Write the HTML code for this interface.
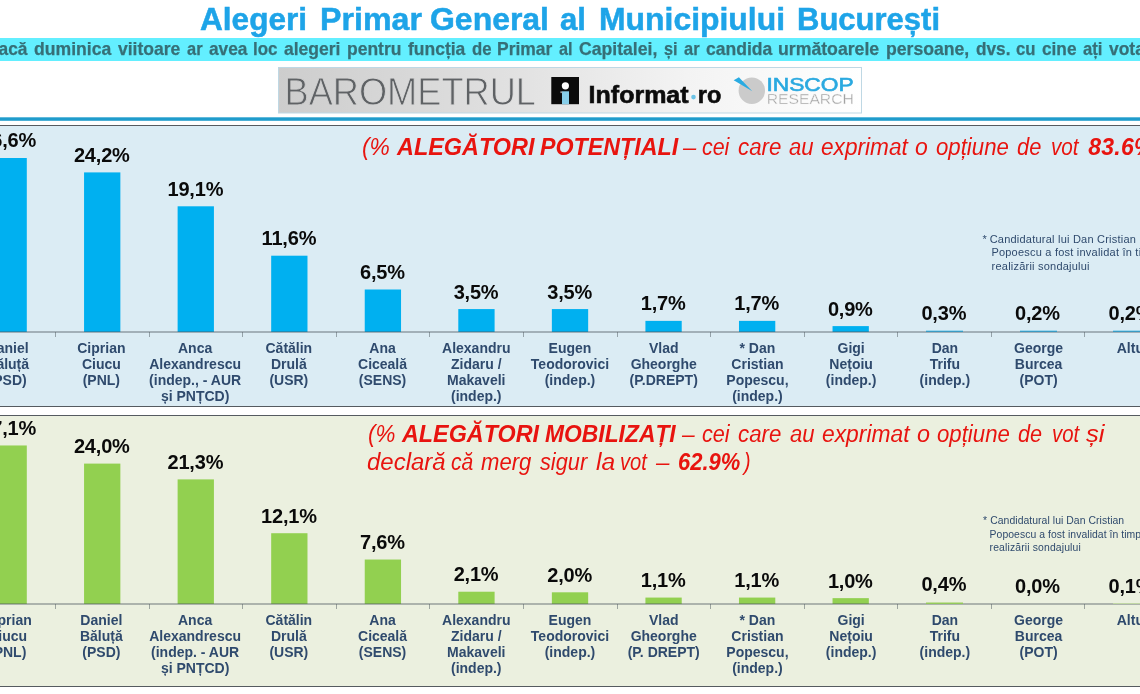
<!DOCTYPE html>
<html>
<head>
<meta charset="utf-8">
<style>
html,body{margin:0;padding:0;overflow:hidden;}
body{width:1140px;height:694px;position:relative;overflow:hidden;background:#fff;font-family:"Liberation Sans",sans-serif;}
#clip{position:absolute;left:0;top:0;width:1140px;height:694px;overflow:hidden;}
#wrap{position:absolute;left:-20px;top:-20px;width:1180px;height:734px;overflow:hidden;filter:blur(0.45px);background:#fff;}
#inner{position:absolute;left:20px;top:20px;width:1140px;height:694px;}
.abs{position:absolute;white-space:nowrap;}
#band{left:-20px;top:38px;width:1180px;height:23px;background:#63efff;}
#blueline{left:-20px;top:117px;width:1180px;height:4px;background:linear-gradient(#62badb 0,#62badb 1px,#1f9ccc 1px,#1f9ccc 3px,#4cb0d6 3px,#4cb0d6 4px);}
.panel{left:-20px;width:1180px;box-sizing:border-box;border-top:1px solid #555b60;border-bottom:1px solid #555b60;}
#p1{top:125px;height:282px;background:#dbecf4;}
#p2{top:415px;height:272px;background:#ebf0df;}
.tick{width:1px;height:5px;}
.val{font-size:20px;line-height:24px;font-weight:bold;color:#0a0a0a;text-align:center;width:94px;letter-spacing:-0.2px;}
.cat{font-size:14px;line-height:16px;font-weight:bold;color:#2f4a6d;text-align:center;width:120px;white-space:pre;letter-spacing:0px;}
.note{color:#2f4a6d;white-space:pre;}
.n1{font-size:11px;line-height:13.4px;letter-spacing:0.22px;}
.n2{font-size:10.4px;line-height:13.6px;letter-spacing:0.06px;}
</style>
</head>
<body>
<div id="clip"><div id="wrap"><div id="inner">
<div id="band" class="abs"></div>
<svg class="abs" id="logo" style="left:278px;top:67px" width="584" height="47" viewBox="278 67 584 47">
<defs>
<linearGradient id="lg" gradientUnits="userSpaceOnUse" x1="278" y1="0" x2="862" y2="0">
<stop offset="0" stop-color="#cdcdcd"/><stop offset="0.35" stop-color="#dedede"/><stop offset="0.7" stop-color="#f3f3f3"/><stop offset="1" stop-color="#ffffff"/>
</linearGradient>
</defs>
<rect x="278.5" y="67.5" width="583" height="45.5" fill="url(#lg)" stroke="#bfd8e4" stroke-width="1"/>
<text id="baro" x="284.5" y="104.6" font-family="Liberation Sans, sans-serif" font-size="39.4" fill="#5f6265" stroke="url(#lg)" stroke-width="0.9" textLength="251.5" lengthAdjust="spacingAndGlyphs">BAROMETRUL</text>
<!-- informat icon -->
<rect x="551.3" y="77" width="27.7" height="27.2" fill="#0b0b0b"/>
<circle cx="565.4" cy="85.8" r="3.6" fill="#ffffff"/>
<rect x="562" y="91.3" width="7" height="12.9" fill="#86cde8"/>
<rect x="560.4" y="91.3" width="1.8" height="1.8" fill="#9a9a9a"/>
<text id="inf1" x="588.6" y="103.2" font-family="Liberation Sans, sans-serif" font-weight="bold" font-size="24" fill="#0b0b0b" stroke="#0b0b0b" stroke-width="0.6" textLength="100" lengthAdjust="spacingAndGlyphs">Informat</text>
<circle cx="693.5" cy="97.1" r="2.3" fill="#6cc3e6"/>
<text id="inf2" x="697.8" y="103.2" font-family="Liberation Sans, sans-serif" font-weight="bold" font-size="24" fill="#0b0b0b" stroke="#0b0b0b" stroke-width="0.6" textLength="23.5" lengthAdjust="spacingAndGlyphs">ro</text>
<!-- inscop -->
<circle cx="751.8" cy="90.7" r="13.2" fill="#cbcbcb"/>
<path d="M733.7 80.3 L738.9 77.3 L752.3 91.3 Z" fill="#29abe2"/>
<text x="766.4" y="90.9" font-family="Liberation Sans, sans-serif" font-size="18.4" fill="#2aa9e0" stroke="#2aa9e0" stroke-width="0.6" textLength="87.2" lengthAdjust="spacingAndGlyphs">INSCOP</text>
<text x="766.8" y="103.7" font-family="Liberation Sans, sans-serif" font-size="14.6" fill="#a3a3a3" stroke="#f4f4f4" stroke-width="0.4" textLength="87" lengthAdjust="spacingAndGlyphs">RESEARCH</text>
</svg>

<div id="blueline" class="abs"></div>
<div id="p1" class="abs panel"></div>
<div id="p2" class="abs panel"></div>
<svg class="abs" style="left:0;top:0" width="1140" height="694" viewBox="0 0 1140 694"><rect x="-9.50" y="158.00" width="36.3" height="174.00" fill="#00b0f0"/><rect x="84.06" y="172.40" width="36.3" height="159.60" fill="#00b0f0"/><rect x="177.62" y="206.30" width="36.3" height="125.70" fill="#00b0f0"/><rect x="271.18" y="255.70" width="36.3" height="76.30" fill="#00b0f0"/><rect x="364.74" y="289.50" width="36.3" height="42.50" fill="#00b0f0"/><rect x="458.30" y="309.07" width="36.3" height="22.93" fill="#00b0f0"/><rect x="551.86" y="309.07" width="36.3" height="22.93" fill="#00b0f0"/><rect x="645.42" y="320.87" width="36.3" height="11.13" fill="#00b0f0"/><rect x="738.98" y="320.87" width="36.3" height="11.13" fill="#00b0f0"/><rect x="832.54" y="326.11" width="36.3" height="5.89" fill="#00b0f0"/><rect x="-9.50" y="445.47" width="36.3" height="158.53" fill="#92d050"/><rect x="84.06" y="463.60" width="36.3" height="140.40" fill="#92d050"/><rect x="177.62" y="479.39" width="36.3" height="124.60" fill="#92d050"/><rect x="271.18" y="533.22" width="36.3" height="70.78" fill="#92d050"/><rect x="364.74" y="559.54" width="36.3" height="44.46" fill="#92d050"/><rect x="458.30" y="591.72" width="36.3" height="12.29" fill="#92d050"/><rect x="551.86" y="592.30" width="36.3" height="11.70" fill="#92d050"/><rect x="645.42" y="597.57" width="36.3" height="6.44" fill="#92d050"/><rect x="738.98" y="597.57" width="36.3" height="6.44" fill="#92d050"/><rect x="832.54" y="598.15" width="36.3" height="5.85" fill="#92d050"/></svg>
<div class="abs" style="left:-20px;width:1180px;top:331px;height:2px;background:rgba(78,88,94,0.40)"></div>
<div class="abs tick" style="left:55.1px;top:332px;background:rgba(78,88,94,0.5)"></div>
<div class="abs tick" style="left:148.7px;top:332px;background:rgba(78,88,94,0.5)"></div>
<div class="abs tick" style="left:242.2px;top:332px;background:rgba(78,88,94,0.5)"></div>
<div class="abs tick" style="left:335.8px;top:332px;background:rgba(78,88,94,0.5)"></div>
<div class="abs tick" style="left:429.3px;top:332px;background:rgba(78,88,94,0.5)"></div>
<div class="abs tick" style="left:522.9px;top:332px;background:rgba(78,88,94,0.5)"></div>
<div class="abs tick" style="left:616.5px;top:332px;background:rgba(78,88,94,0.5)"></div>
<div class="abs tick" style="left:710.0px;top:332px;background:rgba(78,88,94,0.5)"></div>
<div class="abs tick" style="left:803.6px;top:332px;background:rgba(78,88,94,0.5)"></div>
<div class="abs tick" style="left:897.1px;top:332px;background:rgba(78,88,94,0.5)"></div>
<div class="abs tick" style="left:990.7px;top:332px;background:rgba(78,88,94,0.5)"></div>
<div class="abs tick" style="left:1084.3px;top:332px;background:rgba(78,88,94,0.5)"></div>
<div class="abs val" style="left:-38.75px;top:128.47px">26,6%</div>
<div class="abs cat" style="left:-52.33px;top:340.35px">Daniel
Băluță
(PSD)</div>
<div class="abs val" style="left:54.81px;top:142.87px">24,2%</div>
<div class="abs cat" style="left:41.39px;top:340.35px">Ciprian
Ciucu
(PNL)</div>
<div class="abs val" style="left:148.37px;top:176.77px">19,1%</div>
<div class="abs cat" style="left:135.11px;top:340.35px">Anca
Alexandrescu
(indep., - AUR
și PNȚCD)</div>
<div class="abs val" style="left:241.93px;top:226.17px">11,6%</div>
<div class="abs cat" style="left:228.83px;top:340.35px">Cătălin
Drulă
(USR)</div>
<div class="abs val" style="left:335.49px;top:259.97px">6,5%</div>
<div class="abs cat" style="left:322.55px;top:340.35px">Ana
Ciceală
(SENS)</div>
<div class="abs val" style="left:429.05px;top:279.54px">3,5%</div>
<div class="abs cat" style="left:416.27px;top:340.35px">Alexandru
Zidaru /
Makaveli
(indep.)</div>
<div class="abs val" style="left:522.61px;top:279.54px">3,5%</div>
<div class="abs cat" style="left:509.99px;top:340.35px">Eugen
Teodorovici
(indep.)</div>
<div class="abs val" style="left:616.17px;top:291.33px">1,7%</div>
<div class="abs cat" style="left:603.71px;top:340.35px">Vlad
Gheorghe
(P.DREPT)</div>
<div class="abs val" style="left:709.73px;top:291.33px">1,7%</div>
<div class="abs cat" style="left:697.43px;top:340.35px">* Dan
Cristian
Popescu,
(indep.)</div>
<div class="abs val" style="left:803.29px;top:296.57px">0,9%</div>
<div class="abs cat" style="left:791.15px;top:340.35px">Gigi
Nețoiu
(indep.)</div>
<div class="abs" style="left:926.10px;top:330px;height:2px;width:36.9px;background:linear-gradient(#9fd8ee 0,#9fd8ee 1px,#3a9bc4 1px,#3a9bc4 2px)"></div>
<div class="abs val" style="left:896.85px;top:300.50px">0,3%</div>
<div class="abs cat" style="left:884.87px;top:340.35px">Dan
Trifu
(indep.)</div>
<div class="abs" style="left:1019.66px;top:330px;height:2px;width:36.9px;background:linear-gradient(#9fd8ee 0,#9fd8ee 1px,#3a9bc4 1px,#3a9bc4 2px)"></div>
<div class="abs val" style="left:990.41px;top:301.16px">0,2%</div>
<div class="abs cat" style="left:978.59px;top:340.35px">George
Burcea
(POT)</div>
<div class="abs" style="left:1113.22px;top:330px;height:2px;width:36.9px;background:linear-gradient(#9fd8ee 0,#9fd8ee 1px,#3a9bc4 1px,#3a9bc4 2px)"></div>
<div class="abs val" style="left:1083.97px;top:301.16px">0,2%</div>
<div class="abs cat" style="left:1072.31px;top:340.35px">Altul</div>
<div class="abs" style="left:-20px;width:1180px;top:603px;height:2px;background:rgba(78,88,94,0.40)"></div>
<div class="abs tick" style="left:55.1px;top:604px;background:rgba(78,88,94,0.5)"></div>
<div class="abs tick" style="left:148.7px;top:604px;background:rgba(78,88,94,0.5)"></div>
<div class="abs tick" style="left:242.2px;top:604px;background:rgba(78,88,94,0.5)"></div>
<div class="abs tick" style="left:335.8px;top:604px;background:rgba(78,88,94,0.5)"></div>
<div class="abs tick" style="left:429.3px;top:604px;background:rgba(78,88,94,0.5)"></div>
<div class="abs tick" style="left:522.9px;top:604px;background:rgba(78,88,94,0.5)"></div>
<div class="abs tick" style="left:616.5px;top:604px;background:rgba(78,88,94,0.5)"></div>
<div class="abs tick" style="left:710.0px;top:604px;background:rgba(78,88,94,0.5)"></div>
<div class="abs tick" style="left:803.6px;top:604px;background:rgba(78,88,94,0.5)"></div>
<div class="abs tick" style="left:897.1px;top:604px;background:rgba(78,88,94,0.5)"></div>
<div class="abs tick" style="left:990.7px;top:604px;background:rgba(78,88,94,0.5)"></div>
<div class="abs tick" style="left:1084.3px;top:604px;background:rgba(78,88,94,0.5)"></div>
<div class="abs val" style="left:-38.75px;top:415.94px">27,1%</div>
<div class="abs cat" style="left:-52.33px;top:612.15px">Ciprian
Ciucu
(PNL)</div>
<div class="abs val" style="left:54.81px;top:434.07px">24,0%</div>
<div class="abs cat" style="left:41.39px;top:612.15px">Daniel
Băluță
(PSD)</div>
<div class="abs val" style="left:148.37px;top:449.86px">21,3%</div>
<div class="abs cat" style="left:135.11px;top:612.15px">Anca
Alexandrescu
(indep. - AUR
și PNȚCD)</div>
<div class="abs val" style="left:241.93px;top:503.69px">12,1%</div>
<div class="abs cat" style="left:228.83px;top:612.15px">Cătălin
Drulă
(USR)</div>
<div class="abs val" style="left:335.49px;top:530.01px">7,6%</div>
<div class="abs cat" style="left:322.55px;top:612.15px">Ana
Ciceală
(SENS)</div>
<div class="abs val" style="left:429.05px;top:562.19px">2,1%</div>
<div class="abs cat" style="left:416.27px;top:612.15px">Alexandru
Zidaru /
Makaveli
(indep.)</div>
<div class="abs val" style="left:522.61px;top:562.77px">2,0%</div>
<div class="abs cat" style="left:509.99px;top:612.15px">Eugen
Teodorovici
(indep.)</div>
<div class="abs val" style="left:616.17px;top:568.04px">1,1%</div>
<div class="abs cat" style="left:603.71px;top:612.15px">Vlad
Gheorghe
(P. DREPT)</div>
<div class="abs val" style="left:709.73px;top:568.04px">1,1%</div>
<div class="abs cat" style="left:697.43px;top:612.15px">* Dan
Cristian
Popescu,
(indep.)</div>
<div class="abs val" style="left:803.29px;top:568.62px">1,0%</div>
<div class="abs cat" style="left:791.15px;top:612.15px">Gigi
Nețoiu
(indep.)</div>
<div class="abs" style="left:926.10px;top:602px;height:2px;width:36.9px;background:linear-gradient(#c3df9c 0,#c3df9c 1px,#93c95c 1px,#93c95c 2px)"></div>
<div class="abs val" style="left:896.85px;top:572.13px">0,4%</div>
<div class="abs cat" style="left:884.87px;top:612.15px">Dan
Trifu
(indep.)</div>
<div class="abs val" style="left:990.41px;top:574.47px">0,0%</div>
<div class="abs cat" style="left:978.59px;top:612.15px">George
Burcea
(POT)</div>
<div class="abs" style="left:1113.22px;top:603px;height:1px;width:36.9px;background:#c0d7a4"></div>
<div class="abs val" style="left:1083.97px;top:573.88px">0,1%</div>
<div class="abs cat" style="left:1072.31px;top:612.15px">Altul</div>
<span class="abs" style="left:200.20px;top:0.09px;font-size:31.5px;line-height:38px;color:#1ea4e8;font-weight:bold;-webkit-text-stroke:0.5px #1ea4e8;transform-origin:0 0;transform:scaleX(1.0029)">Alegeri</span>
<span class="abs" style="left:320.10px;top:0.09px;font-size:31.5px;line-height:38px;color:#1ea4e8;font-weight:bold;-webkit-text-stroke:0.5px #1ea4e8;transform-origin:0 0;transform:scaleX(1.0211)">Primar</span>
<span class="abs" style="left:430.00px;top:0.09px;font-size:31.5px;line-height:38px;color:#1ea4e8;font-weight:bold;-webkit-text-stroke:0.5px #1ea4e8;transform-origin:0 0;transform:scaleX(1.0144)">General</span>
<span class="abs" style="left:560.20px;top:0.09px;font-size:31.5px;line-height:38px;color:#1ea4e8;font-weight:bold;-webkit-text-stroke:0.5px #1ea4e8;transform-origin:0 0;transform:scaleX(0.9897)">al</span>
<span class="abs" style="left:598.80px;top:0.09px;font-size:31.5px;line-height:38px;color:#1ea4e8;font-weight:bold;-webkit-text-stroke:0.5px #1ea4e8;transform-origin:0 0;transform:scaleX(1.0128)">Municipiului</span>
<span class="abs" style="left:797.30px;top:0.09px;font-size:31.5px;line-height:38px;color:#1ea4e8;font-weight:bold;-webkit-text-stroke:0.5px #1ea4e8;transform-origin:0 0;transform:scaleX(0.9843)">București</span>
<span class="abs" style="left:-13.53px;top:38.49px;font-size:18.5px;line-height:22px;color:#366f77;font-weight:bold;-webkit-text-stroke:0.25px #366f77;transform-origin:0 0;transform:scaleX(0.9371)">Dacă</span>
<span class="abs" style="left:34.29px;top:38.49px;font-size:18.5px;line-height:22px;color:#366f77;font-weight:bold;-webkit-text-stroke:0.25px #366f77;transform-origin:0 0;transform:scaleX(0.9515)">duminica</span>
<span class="abs" style="left:117.94px;top:38.49px;font-size:18.5px;line-height:22px;color:#366f77;font-weight:bold;-webkit-text-stroke:0.25px #366f77;transform-origin:0 0;transform:scaleX(0.9474)">viitoare</span>
<span class="abs" style="left:186.66px;top:38.49px;font-size:18.5px;line-height:22px;color:#366f77;font-weight:bold;-webkit-text-stroke:0.25px #366f77;transform-origin:0 0;transform:scaleX(0.8886)">ar</span>
<span class="abs" style="left:208.58px;top:38.49px;font-size:18.5px;line-height:22px;color:#366f77;font-weight:bold;-webkit-text-stroke:0.25px #366f77;transform-origin:0 0;transform:scaleX(0.9348)">avea</span>
<span class="abs" style="left:253.43px;top:38.49px;font-size:18.5px;line-height:22px;color:#366f77;font-weight:bold;-webkit-text-stroke:0.25px #366f77;transform-origin:0 0;transform:scaleX(0.9163)">loc</span>
<span class="abs" style="left:284.30px;top:38.49px;font-size:18.5px;line-height:22px;color:#366f77;font-weight:bold;-webkit-text-stroke:0.25px #366f77;transform-origin:0 0;transform:scaleX(0.9452)">alegeri</span>
<span class="abs" style="left:347.06px;top:38.49px;font-size:18.5px;line-height:22px;color:#366f77;font-weight:bold;-webkit-text-stroke:0.25px #366f77;transform-origin:0 0;transform:scaleX(0.9444)">pentru</span>
<span class="abs" style="left:407.79px;top:38.49px;font-size:18.5px;line-height:22px;color:#366f77;font-weight:bold;-webkit-text-stroke:0.25px #366f77;transform-origin:0 0;transform:scaleX(0.9457)">funcția</span>
<span class="abs" style="left:471.51px;top:38.49px;font-size:18.5px;line-height:22px;color:#366f77;font-weight:bold;-webkit-text-stroke:0.25px #366f77;transform-origin:0 0;transform:scaleX(0.9039)">de</span>
<span class="abs" style="left:497.40px;top:38.49px;font-size:18.5px;line-height:22px;color:#366f77;font-weight:bold;-webkit-text-stroke:0.25px #366f77;transform-origin:0 0;transform:scaleX(0.9448)">Primar</span>
<span class="abs" style="left:559.16px;top:38.49px;font-size:18.5px;line-height:22px;color:#366f77;font-weight:bold;-webkit-text-stroke:0.25px #366f77;transform-origin:0 0;transform:scaleX(0.8780)">al</span>
<span class="abs" style="left:579.09px;top:38.49px;font-size:18.5px;line-height:22px;color:#366f77;font-weight:bold;-webkit-text-stroke:0.25px #366f77;transform-origin:0 0;transform:scaleX(0.9517)">Capitalei,</span>
<span class="abs" style="left:663.74px;top:38.49px;font-size:18.5px;line-height:22px;color:#366f77;font-weight:bold;-webkit-text-stroke:0.25px #366f77;transform-origin:0 0;transform:scaleX(0.8780)">și</span>
<span class="abs" style="left:683.67px;top:38.49px;font-size:18.5px;line-height:22px;color:#366f77;font-weight:bold;-webkit-text-stroke:0.25px #366f77;transform-origin:0 0;transform:scaleX(0.8886)">ar</span>
<span class="abs" style="left:705.59px;top:38.49px;font-size:18.5px;line-height:22px;color:#366f77;font-weight:bold;-webkit-text-stroke:0.25px #366f77;transform-origin:0 0;transform:scaleX(0.9487)">candida</span>
<span class="abs" style="left:778.29px;top:38.49px;font-size:18.5px;line-height:22px;color:#366f77;font-weight:bold;-webkit-text-stroke:0.25px #366f77;transform-origin:0 0;transform:scaleX(0.9555)">următoarele</span>
<span class="abs" style="left:885.86px;top:38.49px;font-size:18.5px;line-height:22px;color:#366f77;font-weight:bold;-webkit-text-stroke:0.25px #366f77;transform-origin:0 0;transform:scaleX(0.9527)">persoane,</span>
<span class="abs" style="left:975.50px;top:38.49px;font-size:18.5px;line-height:22px;color:#366f77;font-weight:bold;-webkit-text-stroke:0.25px #366f77;transform-origin:0 0;transform:scaleX(0.9309)">dvs.</span>
<span class="abs" style="left:1016.33px;top:38.49px;font-size:18.5px;line-height:22px;color:#366f77;font-weight:bold;-webkit-text-stroke:0.25px #366f77;transform-origin:0 0;transform:scaleX(0.9039)">cu</span>
<span class="abs" style="left:1042.23px;top:38.49px;font-size:18.5px;line-height:22px;color:#366f77;font-weight:bold;-webkit-text-stroke:0.25px #366f77;transform-origin:0 0;transform:scaleX(0.9309)">cine</span>
<span class="abs" style="left:1083.07px;top:38.49px;font-size:18.5px;line-height:22px;color:#366f77;font-weight:bold;-webkit-text-stroke:0.25px #366f77;transform-origin:0 0;transform:scaleX(0.9039)">ați</span>
<span class="abs" style="left:1108.96px;top:38.49px;font-size:18.5px;line-height:22px;color:#366f77;font-weight:bold;-webkit-text-stroke:0.25px #366f77;transform-origin:0 0;transform:scaleX(0.9435)">votat?</span>
<span class="abs" style="left:362.00px;top:132.93px;font-size:23.0px;line-height:28px;color:#e8140f;font-style:italic;transform-origin:0 0;transform:scaleX(0.9909)">(%</span>
<span class="abs" style="left:396.99px;top:132.93px;font-size:23.0px;line-height:28px;color:#e8140f;font-weight:bold;font-style:italic;transform-origin:0 0;transform:scaleX(1.0180)">ALEGĂTORI</span>
<span class="abs" style="left:539.50px;top:132.93px;font-size:23.0px;line-height:28px;color:#e8140f;font-weight:bold;font-style:italic;transform-origin:0 0;transform:scaleX(1.0107)">POTENȚIALI</span>
<span class="abs" style="left:682.67px;top:132.93px;font-size:23.0px;line-height:28px;color:#e8140f;font-style:italic;transform-origin:0 0;transform:scaleX(1.0297)">–</span>
<span class="abs" style="left:702.00px;top:132.93px;font-size:23.0px;line-height:28px;color:#e8140f;font-style:italic;transform-origin:0 0;transform:scaleX(0.9307)">cei</span>
<span class="abs" style="left:737.75px;top:132.93px;font-size:23.0px;line-height:28px;color:#e8140f;font-style:italic;transform-origin:0 0;transform:scaleX(0.9690)">care</span>
<span class="abs" style="left:789.00px;top:132.93px;font-size:23.0px;line-height:28px;color:#e8140f;font-style:italic;transform-origin:0 0;transform:scaleX(0.9618)">au</span>
<span class="abs" style="left:820.75px;top:132.93px;font-size:23.0px;line-height:28px;color:#e8140f;font-style:italic;transform-origin:0 0;transform:scaleX(0.9836)">exprimat</span>
<span class="abs" style="left:915.00px;top:132.93px;font-size:23.0px;line-height:28px;letter-spacing:0.250px;color:#e8140f;font-style:italic;">o</span>
<span class="abs" style="left:935.75px;top:132.93px;font-size:23.0px;line-height:28px;color:#e8140f;font-style:italic;transform-origin:0 0;transform:scaleX(0.9654)">opțiune</span>
<span class="abs" style="left:1017.00px;top:132.93px;font-size:23.0px;line-height:28px;color:#e8140f;font-style:italic;transform-origin:0 0;transform:scaleX(0.9501)">de</span>
<span class="abs" style="left:1050.75px;top:132.93px;font-size:23.0px;line-height:28px;color:#e8140f;font-style:italic;transform-origin:0 0;transform:scaleX(0.9004)">vot</span>
<span class="abs" style="left:1088.25px;top:132.93px;font-size:23.0px;line-height:28px;letter-spacing:0.250px;color:#e8140f;font-weight:bold;font-style:italic;">83.6%)</span>
<span class="abs" style="left:367.50px;top:420.33px;font-size:23.0px;line-height:28px;color:#e8140f;font-style:italic;transform-origin:0 0;transform:scaleX(0.9731)">(%</span>
<span class="abs" style="left:402.49px;top:420.33px;font-size:23.0px;line-height:28px;color:#e8140f;font-weight:bold;font-style:italic;transform-origin:0 0;transform:scaleX(1.0143)">ALEGĂTORI</span>
<span class="abs" style="left:545.00px;top:420.33px;font-size:23.0px;line-height:28px;color:#e8140f;font-weight:bold;font-style:italic;transform-origin:0 0;transform:scaleX(0.9934)">MOBILIZAȚI</span>
<span class="abs" style="left:682.16px;top:420.33px;font-size:23.0px;line-height:28px;color:#e8140f;font-style:italic;transform-origin:0 0;transform:scaleX(0.9916)">–</span>
<span class="abs" style="left:701.50px;top:420.33px;font-size:23.0px;line-height:28px;color:#e8140f;font-style:italic;transform-origin:0 0;transform:scaleX(0.9391)">cei</span>
<span class="abs" style="left:738.25px;top:420.33px;font-size:23.0px;line-height:28px;color:#e8140f;font-style:italic;transform-origin:0 0;transform:scaleX(0.9690)">care</span>
<span class="abs" style="left:789.50px;top:420.33px;font-size:23.0px;line-height:28px;color:#e8140f;font-style:italic;transform-origin:0 0;transform:scaleX(0.9618)">au</span>
<span class="abs" style="left:821.50px;top:420.33px;font-size:23.0px;line-height:28px;color:#e8140f;font-style:italic;transform-origin:0 0;transform:scaleX(0.9926)">exprimat</span>
<span class="abs" style="left:917.00px;top:420.33px;font-size:23.0px;line-height:28px;color:#e8140f;font-style:italic;transform-origin:0 0;transform:scaleX(1.0166)">o</span>
<span class="abs" style="left:937.00px;top:420.33px;font-size:23.0px;line-height:28px;color:#e8140f;font-style:italic;transform-origin:0 0;transform:scaleX(0.9654)">opțiune</span>
<span class="abs" style="left:1018.25px;top:420.33px;font-size:23.0px;line-height:28px;color:#e8140f;font-style:italic;transform-origin:0 0;transform:scaleX(0.9423)">de</span>
<span class="abs" style="left:1052.00px;top:420.33px;font-size:23.0px;line-height:28px;color:#e8140f;font-style:italic;transform-origin:0 0;transform:scaleX(0.8845)">vot</span>
<span class="abs" style="left:1085.75px;top:420.33px;font-size:23.0px;line-height:28px;color:#e8140f;font-style:italic;transform-origin:0 0;transform:scaleX(1.1147)">și</span>
<span class="abs" style="left:367.00px;top:448.33px;font-size:23.0px;line-height:28px;color:#e8140f;font-style:italic;transform-origin:0 0;transform:scaleX(1.0419)">declară</span>
<span class="abs" style="left:450.75px;top:448.33px;font-size:23.0px;line-height:28px;color:#e8140f;font-style:italic;transform-origin:0 0;transform:scaleX(0.9202)">că</span>
<span class="abs" style="left:480.75px;top:448.33px;font-size:23.0px;line-height:28px;color:#e8140f;font-style:italic;transform-origin:0 0;transform:scaleX(0.9610)">merg</span>
<span class="abs" style="left:539.50px;top:448.33px;font-size:23.0px;line-height:28px;color:#e8140f;font-style:italic;transform-origin:0 0;transform:scaleX(0.9452)">sigur</span>
<span class="abs" style="left:595.75px;top:448.33px;font-size:23.0px;line-height:28px;color:#e8140f;font-style:italic;transform-origin:0 0;transform:scaleX(1.0674)">la</span>
<span class="abs" style="left:620.00px;top:448.33px;font-size:23.0px;line-height:28px;color:#e8140f;font-style:italic;transform-origin:0 0;transform:scaleX(0.8766)">vot</span>
<span class="abs" style="left:655.67px;top:448.33px;font-size:23.0px;line-height:28px;color:#e8140f;font-style:italic;transform-origin:0 0;transform:scaleX(1.0488)">–</span>
<span class="abs" style="left:678.25px;top:448.33px;font-size:23.0px;line-height:28px;color:#e8140f;font-weight:bold;font-style:italic;transform-origin:0 0;transform:scaleX(0.9562)">62.9%</span>
<span class="abs" style="left:743.93px;top:448.33px;font-size:23.0px;line-height:28px;color:#e8140f;font-style:italic;transform-origin:0 0;transform:scaleX(0.8575)">)</span>
<div class="abs note n1" style="left:982.5px;top:233px">*</div>
<div class="abs note n1" style="left:989.7px;top:233px">Candidatural lui Dan Cristian</div>
<div class="abs note n1" style="left:991.4px;top:246.4px">Popoescu a fost invalidat în timpul</div>
<div class="abs note n1" style="left:991.6px;top:259.8px">realizării sondajului</div>
<div class="abs note n2" style="left:983px;top:513.6px">*</div>
<div class="abs note n2" style="left:990.2px;top:513.6px">Candidatural lui Dan Cristian</div>
<div class="abs note n2" style="left:989.6px;top:527.9px">Popoescu a fost invalidat în timpul</div>
<div class="abs note n2" style="left:989.6px;top:541.2px;letter-spacing:0.14px">realizării sondajului</div>

</div></div></div>
</body>
</html>
